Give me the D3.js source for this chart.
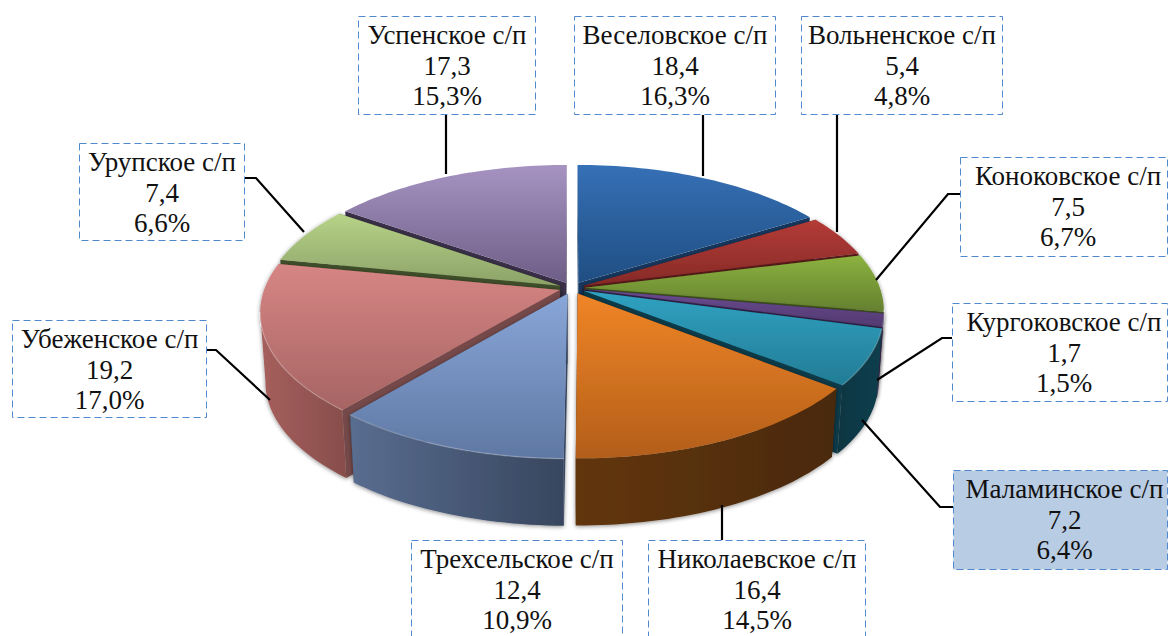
<!DOCTYPE html>
<html><head><meta charset="utf-8">
<script src="https://cdn.jsdelivr.net/npm/d3@7"></script>
<style>html,body{margin:0;padding:0;background:#fff;overflow:hidden}</style>
</head><body><svg id="c" width="1168" height="636"></svg>
<script>
const categories=["Веселовское с/п","Вольненское с/п","Коноковское с/п","Кургоковское с/п","Маламинское с/п","Николаевское с/п","Трехсельское с/п","Убеженское с/п","Урупское с/п","Успенское с/п"];
const values=[18.4,5.4,7.5,1.7,7.2,16.4,12.4,19.2,7.4,17.3];
const valueLabels=["18,4","5,4","7,5","1,7","7,2","16,4","12,4","19,2","7,4","17,3"];
const percentLabels=["16,3%","4,8%","6,7%","1,5%","6,4%","14,5%","10,9%","17,0%","6,6%","15,3%"];
const topLight=["#3670b6","#b43b37","#8cb23f","#6b4b92","#30a2c2","#f08526","#88a6d8","#d68684","#b7d388","#a693c2"];
const topDark=["#1f4e82","#862a27","#64802f","#523a70","#237c95","#b35e1a","#5f78a3","#a66463","#8ca268","#6e5e86"];
const wallStart=["#17375e","#632020","#465a22","#37264d","#0c3541","#623610","#596d90","#a65f5c","#7f955c","#6e5e86"];
const wallEnd=["#1f4e82","#862a27","#5b752b","#4a3366","#123f4e","#4a290c","#37465e","#874e4b","#63744a","#4f4361"];
const faceColor=["#17375e","#5c1c1b","#40521f","#33234a","#0c3a48","#4a290c","#37465e","#754a49","#414f2b","#3a3049"];
const boxes=[[574,16,202,99],[801,16,202,99],[960,157,208,100],[952,303,216,99],[953,470,215,100],[648,540,218,97],[411,540,212,97],[12,320,195,98],[79,143,166,98],[358,16,178,99]];
const leaders=[[[703,115],[703,176]],[[837,115],[837,232]],[[960,194],[948,194],[876,280]],[[952,338],[942,338],[877,380]],[[953,507],[940,507],[862,420]],[[722,540],[722,505]],null,[[207,350],[216,350],[270,400]],[[245,178],[256,178],[304,232]],[[446,115],[446,174]]];

const cx=572,cy=288,K=295,k=137.5,p=0.1546,explode=0.044,depth=70,shrink=0.983;
const svg=d3.select("#c");
const defs=svg.append("defs");
const f=defs.append("filter").attr("id","sh").attr("x","-10%").attr("y","-10%").attr("width","120%").attr("height","125%");
f.append("feDropShadow").attr("dx",0).attr("dy",1).attr("stdDeviation",2.2).attr("flood-color","#000").attr("flood-opacity",0.45);
values.forEach((v,i)=>{
  const g=defs.append("linearGradient").attr("id","t"+i).attr("x1",0).attr("y1",0).attr("x2",0).attr("y2",1);
  g.append("stop").attr("offset",0).attr("stop-color",topLight[i]);
  g.append("stop").attr("offset",1).attr("stop-color",topDark[i]);
  const w=defs.append("linearGradient").attr("id","w"+i).attr("x1",0).attr("y1",0).attr("x2",1).attr("y2",0);
  w.append("stop").attr("offset",0).attr("stop-color",wallStart[i]);
  w.append("stop").attr("offset",1).attr("stop-color",wallEnd[i]);
});
const arcs=d3.pie().sort(null).startAngle(0).endAngle(2*Math.PI)(values);
function proj(u,v,low){
  const d=1-p*v;
  let x=K*u/d,y=k*v/d;
  if(low){x*=shrink;y=y*shrink+depth;}
  return [cx+x,cy+y];
}
const line=d3.line();
arcs.forEach((a,i)=>{a.index=i;a.mid=(a.startAngle+a.endAngle)/2;});
const order=arcs.slice().sort((a,b)=>Math.cos(b.mid)-Math.cos(a.mid));
const wallFrom=Math.PI-Math.acos(p), wallTo=Math.PI+Math.acos(p);
const pie=svg.append("g");
order.forEach(a=>{
  const i=a.index, ox=explode*Math.sin(a.mid), oy=-explode*Math.cos(a.mid);
  const pt=(t,r,low)=>proj(ox+r*Math.sin(t),oy-r*Math.cos(t),low);
  const sweep=(t0,t1)=>{const n=Math.max(8,Math.ceil((t1-t0)*40));return d3.range(n+1).map(j=>t0+(t1-t0)*j/n);};
  const ts=sweep(a.startAngle,a.endAngle);
  const g=pie.append("g");
  if(Math.cos(a.mid)<0.65) g.attr("filter","url(#sh)");
  [a.startAngle,a.endAngle].forEach(t=>{
    g.append("path").attr("d",line([pt(t,0,false),pt(t,1,false),pt(t,1,true),pt(t,0,true)])+"Z").attr("fill",faceColor[i]);
  });
  const t0=Math.max(a.startAngle,wallFrom), t1=Math.min(a.endAngle,wallTo);
  if(t1>t0){
    const ws=sweep(t0,t1);
    g.append("path").attr("d",line(ws.map(t=>pt(t,1,false)).concat(ws.slice().reverse().map(t=>pt(t,1,true))))+"Z").attr("fill",`url(#w${i})`);
  }
  g.append("path").attr("d",line([pt(a.startAngle,0,false)].concat(ts.map(t=>pt(t,1,false))))+"Z").attr("fill",`url(#t${i})`);
  if(t1>t0 && i!==5){
    g.append("path").attr("d",line(sweep(t0,t1).map(t=>pt(t,1,false)))).attr("fill","none").attr("stroke","#fff").attr("stroke-opacity",0.22).attr("stroke-width",1.4);
  }
});
const lab=svg.append("g");
leaders.forEach(l=>{ if(l) lab.append("path").attr("d",line(l)).attr("fill","none").attr("stroke","#000").attr("stroke-width",2.2); });
categories.forEach((c,i)=>{
  const [x,y,w,h]=boxes[i];
  lab.append("rect").attr("x",x+.5).attr("y",y+.5).attr("width",w-1).attr("height",h-1)
    .attr("fill",i===4?"#b8cce4":"#fff").attr("stroke","#4f88cf").attr("stroke-width",1).attr("stroke-dasharray","7 4");
  [c,valueLabels[i],percentLabels[i]].forEach((s,j)=>{
    lab.append("text").attr("x",x+w/2+(x+w>=1167?4:0)).attr("y",y+28+j*30.7).attr("text-anchor","middle")
      .attr("font-family","'Liberation Serif',serif").attr("font-size",27).attr("fill","#111").text(s);
  });
});
</script></body></html>
